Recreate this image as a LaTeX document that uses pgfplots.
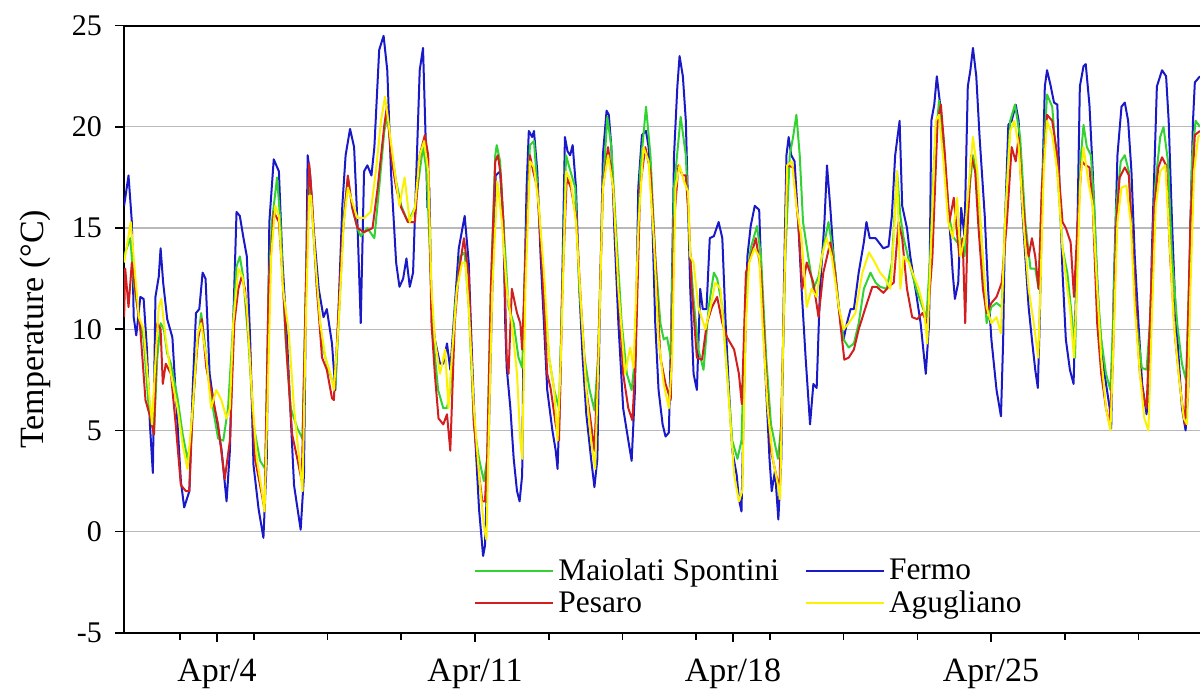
\documentclass[border=0pt]{standalone}
\usepackage{fontspec}
\setmainfont{Liberation Serif}
\usepackage{pgfplots}
\pgfplotsset{compat=1.18}
\definecolor{cgreen}{RGB}{50,210,50}
\definecolor{cred}{RGB}{210,30,30}
\definecolor{cblue}{RGB}{25,25,200}
\definecolor{cyellow}{RGB}{250,242,0}
\begin{document}
\begin{tikzpicture}
\begin{axis}[
  name=ax, at={(0,0)}, anchor=south west,
  width=538pt, height=303.6pt, scale only axis,
  xmin=1.477, xmax=30.67, ymin=-5, ymax=25,
  axis x line*=box, axis y line*=left,
  axis line style={line width=1pt, black},
  xtick={4,11,18,25}, xticklabels={Apr/4,Apr/11,Apr/18,Apr/25},
  minor xtick={3,5,7,9,13,15,17,19,21,23,27,29},
  ytick={-5,0,5,10,15,20,25}, yticklabels={-5,0,5,10,15,20,25},
  tick align=outside, xtick pos=left, ytick pos=left,
  major tick length=4.5pt, minor tick length=3.5pt,
  every tick/.style={black, line width=0.8pt},
  ymajorgrids, grid style={gray!55, line width=0.6pt},
  xticklabel style={font=\fontsize{17}{20}\selectfont, yshift=-5pt},
  yticklabel style={font=\fontsize{15}{18}\selectfont, xshift=-3pt},
  ylabel={Temperature (°C)},
  ylabel style={font=\fontsize{17}{20}\selectfont, at={(axis description cs:-0.0827,0.5)}, anchor=center},
  legend columns=2,
  legend cell align=left,
  legend style={draw=none, fill=none, at={(rel axis cs:0.3197,0.1367)}, anchor=north west,
    font=\fontsize{15.7}{18}\selectfont, /tikz/every even column/.append style={column sep=11pt}},
  legend image code/.code={\draw[#1, line width=1pt] (0pt,0pt) -- (35pt,0pt); \path (0pt,0pt) -- (39pt,0pt);},
  every axis plot/.append style={line width=1pt, line join=round, mark=none},
]
% Fermo
\addplot[cblue, forget plot] coordinates {(1.48,16.1)(1.6,17.6)(1.69,15.3)(1.74,10.6)(1.81,9.7)(1.92,11.6)(2.01,11.5)(2.1,9.0)(2.18,5.3)(2.26,2.9)(2.33,11.6)(2.42,12.6)(2.47,14.0)(2.54,12.3)(2.65,10.5)(2.79,9.6)(2.93,5.3)(3.02,2.5)(3.11,1.2)(3.25,2.0)(3.34,7.0)(3.43,10.8)(3.52,11.0)(3.61,12.8)(3.69,12.5)(3.8,7.8)(3.94,6.0)(4.12,4.1)(4.26,1.5)(4.35,4.0)(4.44,10.3)(4.53,15.8)(4.62,15.6)(4.71,14.6)(4.81,13.6)(4.9,9.5)(4.99,3.3)(5.13,1.1)(5.26,-0.3)(5.35,3.6)(5.42,15.3)(5.54,18.4)(5.68,17.8)(5.77,13.6)(5.9,9.5)(6.09,2.3)(6.27,0.1)(6.36,2.8)(6.41,11.1)(6.46,18.6)(6.53,17.6)(6.62,15.0)(6.76,12.0)(6.89,10.6)(6.98,11.0)(7.12,9.3)(7.21,7.0)(7.3,11.1)(7.4,16.1)(7.49,18.6)(7.61,19.9)(7.72,19.0)(7.81,15.3)(7.9,10.3)(7.99,17.8)(8.08,18.1)(8.19,17.6)(8.27,19.0)(8.4,23.8)(8.52,24.5)(8.62,22.8)(8.72,17.8)(8.86,13.3)(8.95,12.1)(9.05,12.5)(9.14,13.5)(9.23,12.1)(9.32,12.8)(9.41,17.8)(9.5,22.8)(9.59,23.9)(9.66,19.5)(9.71,16.0)(9.76,17.0)(9.82,11.1)(9.91,9.5)(10.05,8.3)(10.14,8.3)(10.24,9.3)(10.33,8.0)(10.42,10.3)(10.56,14.0)(10.72,15.6)(10.83,13.3)(10.92,8.6)(11.01,4.5)(11.11,1.1)(11.22,-1.2)(11.27,-0.7)(11.38,5.3)(11.47,12.0)(11.56,17.6)(11.68,17.8)(11.77,15.3)(11.82,10.3)(11.86,8.1)(11.96,6.1)(12.05,3.6)(12.14,2.0)(12.21,1.5)(12.28,2.8)(12.32,10.3)(12.4,17.0)(12.46,19.8)(12.55,19.5)(12.6,19.8)(12.69,17.8)(12.78,13.6)(12.87,10.3)(12.96,7.0)(13.1,5.0)(13.19,4.0)(13.24,3.1)(13.31,7.0)(13.38,13.6)(13.44,19.5)(13.51,18.8)(13.58,18.6)(13.65,19.1)(13.74,17.0)(13.83,12.0)(13.92,8.6)(14.02,5.8)(14.15,3.6)(14.24,2.2)(14.32,3.6)(14.38,10.3)(14.47,18.6)(14.57,20.8)(14.63,20.6)(14.7,19.0)(14.79,14.5)(14.89,10.3)(15.02,6.1)(15.16,4.5)(15.25,3.5)(15.34,7.0)(15.43,17.0)(15.53,19.6)(15.64,19.8)(15.71,19.0)(15.8,16.1)(15.89,10.3)(15.98,7.0)(16.09,5.3)(16.17,4.7)(16.26,4.9)(16.32,9.8)(16.4,18.6)(16.49,22.0)(16.55,23.5)(16.64,22.5)(16.72,20.3)(16.76,17.5)(16.84,12.0)(16.93,7.8)(17.02,7.0)(17.11,12.0)(17.18,11.0)(17.28,11.0)(17.37,14.5)(17.48,14.6)(17.61,15.3)(17.71,14.5)(17.8,10.3)(17.89,7.0)(17.98,4.0)(18.1,2.8)(18.16,1.6)(18.23,1.0)(18.3,7.0)(18.39,13.6)(18.48,15.1)(18.59,16.1)(18.71,15.9)(18.8,11.1)(18.9,7.0)(18.99,3.6)(19.05,2.0)(19.14,3.0)(19.23,0.6)(19.31,3.6)(19.38,12.0)(19.45,18.6)(19.51,19.5)(19.58,18.6)(19.67,18.3)(19.77,15.3)(19.86,12.0)(19.97,8.6)(20.09,5.3)(20.18,7.3)(20.27,7.1)(20.36,12.0)(20.48,15.3)(20.55,18.1)(20.64,16.0)(20.73,13.6)(20.87,11.1)(21.0,9.5)(21.09,10.3)(21.19,11.0)(21.28,11.0)(21.41,12.8)(21.55,14.3)(21.62,15.3)(21.71,14.5)(21.87,14.5)(22.08,14.0)(22.22,14.1)(22.31,15.6)(22.4,18.6)(22.52,20.3)(22.59,16.1)(22.72,15.0)(22.81,13.6)(22.95,12.0)(23.09,10.3)(23.23,7.8)(23.32,10.3)(23.38,20.3)(23.46,21.1)(23.53,22.5)(23.62,21.1)(23.73,18.6)(23.87,15.3)(23.96,12.8)(24.02,11.5)(24.11,12.3)(24.19,16.0)(24.28,14.6)(24.37,22.0)(24.44,22.8)(24.51,23.9)(24.6,22.5)(24.69,19.5)(24.83,15.6)(24.92,12.0)(25.01,9.5)(25.15,7.0)(25.27,5.7)(25.33,9.5)(25.38,15.3)(25.47,20.1)(25.56,20.3)(25.67,21.1)(25.75,20.3)(25.84,16.1)(25.93,13.6)(26.02,11.1)(26.11,9.5)(26.2,8.0)(26.27,7.1)(26.32,10.3)(26.39,17.0)(26.46,22.0)(26.52,22.8)(26.61,22.1)(26.71,21.2)(26.8,21.1)(26.86,17.0)(26.94,12.8)(27.03,9.5)(27.14,8.0)(27.24,7.3)(27.33,13.6)(27.41,22.0)(27.51,23.0)(27.57,23.1)(27.67,21.1)(27.76,17.8)(27.85,13.6)(27.94,10.3)(28.08,7.8)(28.22,6.1)(28.26,5.1)(28.33,12.0)(28.43,18.6)(28.54,21.0)(28.63,21.2)(28.72,20.3)(28.81,17.8)(28.9,13.6)(29.0,10.3)(29.1,7.3)(29.22,5.8)(29.29,7.0)(29.36,13.6)(29.5,22.0)(29.64,22.8)(29.75,22.5)(29.82,20.3)(29.91,15.3)(30.0,11.1)(30.09,8.6)(30.18,6.1)(30.28,5.0)(30.35,7.0)(30.41,15.3)(30.48,20.3)(30.53,22.2)(30.67,22.5)};
% Maiolati Spontini
\addplot[cgreen, forget plot] coordinates {(1.48,13.6)(1.55,14.0)(1.65,14.5)(1.74,12.3)(1.88,10.6)(2.01,9.5)(2.15,6.1)(2.29,4.8)(2.38,8.6)(2.47,10.3)(2.56,10.0)(2.65,8.8)(2.75,8.3)(2.93,6.6)(3.07,4.8)(3.2,3.6)(3.3,4.5)(3.43,8.6)(3.57,10.8)(3.66,9.5)(3.75,7.8)(3.89,6.1)(4.03,4.6)(4.17,4.5)(4.3,6.1)(4.44,10.3)(4.53,13.1)(4.62,13.6)(4.71,12.6)(4.85,9.5)(4.99,5.3)(5.17,3.5)(5.31,3.1)(5.4,12.0)(5.49,15.3)(5.63,17.5)(5.72,15.3)(5.86,9.5)(6.0,6.1)(6.18,5.1)(6.32,4.6)(6.41,12.0)(6.5,17.8)(6.57,16.1)(6.71,12.0)(6.85,9.3)(6.98,8.3)(7.12,7.5)(7.21,7.1)(7.3,10.3)(7.44,15.6)(7.55,17.5)(7.67,16.0)(7.81,15.0)(7.9,14.6)(8.08,15.0)(8.27,14.5)(8.4,17.0)(8.54,19.8)(8.63,20.6)(8.72,19.0)(8.86,17.3)(9.0,16.1)(9.18,15.3)(9.37,16.0)(9.5,17.8)(9.59,19.0)(9.69,17.8)(9.78,13.6)(9.87,9.5)(10.0,7.0)(10.14,6.1)(10.24,6.1)(10.33,7.0)(10.46,11.1)(10.6,13.6)(10.72,13.8)(10.83,11.1)(10.97,5.3)(11.11,3.6)(11.24,2.5)(11.33,3.6)(11.43,12.0)(11.55,18.6)(11.59,19.1)(11.68,18.3)(11.77,15.3)(11.91,11.1)(12.05,10.3)(12.18,8.6)(12.28,8.1)(12.37,13.6)(12.49,19.1)(12.6,19.3)(12.73,16.1)(12.87,12.0)(13.01,8.6)(13.15,7.0)(13.28,6.1)(13.37,12.0)(13.47,18.6)(13.56,18.0)(13.72,17.0)(13.83,12.0)(13.97,8.6)(14.11,7.0)(14.24,6.0)(14.34,8.6)(14.47,17.0)(14.59,20.5)(14.7,19.0)(14.84,14.5)(14.98,10.3)(15.12,7.8)(15.25,7.0)(15.34,8.6)(15.48,17.8)(15.64,21.0)(15.76,18.6)(15.89,13.6)(16.03,10.3)(16.12,9.5)(16.21,9.6)(16.31,8.6)(16.4,17.0)(16.58,20.5)(16.72,18.6)(16.84,13.6)(16.93,11.5)(17.06,9.0)(17.2,8.0)(17.34,11.1)(17.48,12.8)(17.57,12.5)(17.71,11.1)(17.84,7.8)(17.98,4.5)(18.12,3.6)(18.23,4.5)(18.35,12.0)(18.48,14.0)(18.65,15.1)(18.76,13.6)(18.9,8.6)(19.03,5.3)(19.22,3.6)(19.31,5.3)(19.42,13.6)(19.54,18.6)(19.63,19.5)(19.72,20.6)(19.81,18.6)(19.9,15.3)(20.04,13.6)(20.18,12.0)(20.32,12.6)(20.45,14.0)(20.59,15.3)(20.73,13.6)(20.87,11.1)(21.0,9.5)(21.14,9.1)(21.28,9.3)(21.41,10.3)(21.55,12.0)(21.73,12.8)(21.87,12.3)(21.99,12.1)(22.17,12.0)(22.31,13.3)(22.45,17.8)(22.54,15.6)(22.63,14.5)(22.81,13.1)(22.97,12.0)(23.14,11.1)(23.25,10.6)(23.35,13.6)(23.46,18.6)(23.59,21.3)(23.71,19.5)(23.82,16.1)(23.96,14.6)(24.08,14.3)(24.17,14.5)(24.28,13.6)(24.42,17.0)(24.51,18.6)(24.6,17.8)(24.74,14.5)(24.88,10.3)(25.01,11.1)(25.15,11.3)(25.29,11.1)(25.38,15.3)(25.52,20.3)(25.65,21.1)(25.79,19.5)(25.93,15.3)(26.07,13.0)(26.2,13.0)(26.29,12.0)(26.38,17.0)(26.52,21.6)(26.66,21.0)(26.8,17.8)(26.94,14.0)(27.07,12.8)(27.21,10.3)(27.28,8.6)(27.35,14.5)(27.44,18.6)(27.51,20.1)(27.6,19.0)(27.71,18.6)(27.8,16.1)(27.89,12.0)(27.99,9.5)(28.12,7.8)(28.24,7.0)(28.31,10.3)(28.4,16.1)(28.52,18.3)(28.63,18.6)(28.74,17.8)(28.83,14.5)(28.95,10.3)(29.09,8.1)(29.22,8.0)(29.31,10.3)(29.45,17.0)(29.59,19.5)(29.68,20.0)(29.8,18.3)(29.91,13.6)(30.05,10.3)(30.18,8.3)(30.29,7.5)(30.37,12.0)(30.46,18.6)(30.55,20.3)(30.67,20.0)};
% Pesaro
\addplot[cred, forget plot] coordinates {(1.48,10.6)(1.51,13.0)(1.6,11.1)(1.69,13.3)(1.78,12.0)(1.92,10.0)(2.06,6.5)(2.2,5.6)(2.29,4.8)(2.38,10.3)(2.47,10.0)(2.53,7.3)(2.61,8.3)(2.75,7.8)(2.88,5.3)(3.02,2.3)(3.16,2.0)(3.25,2.0)(3.34,6.1)(3.48,9.5)(3.59,10.5)(3.71,8.1)(3.84,7.0)(4.03,5.3)(4.21,2.6)(4.35,4.5)(4.47,10.3)(4.58,12.0)(4.67,12.6)(4.76,12.0)(4.9,8.6)(5.03,3.6)(5.2,2.0)(5.29,1.1)(5.4,12.0)(5.54,15.8)(5.68,15.3)(5.77,12.8)(5.9,8.6)(6.04,4.8)(6.18,3.6)(6.3,2.5)(6.41,12.0)(6.5,18.2)(6.57,16.6)(6.71,12.0)(6.85,8.6)(6.98,8.0)(7.12,6.6)(7.17,6.5)(7.26,9.5)(7.4,14.5)(7.55,17.6)(7.67,16.0)(7.81,15.0)(7.99,14.8)(8.22,15.0)(8.36,17.0)(8.54,20.1)(8.61,21.0)(8.72,18.6)(8.86,17.0)(9.0,16.0)(9.18,15.3)(9.37,15.3)(9.5,18.6)(9.64,19.6)(9.73,18.6)(9.82,10.3)(9.91,7.8)(10.01,5.6)(10.14,5.3)(10.24,5.8)(10.33,4.0)(10.45,10.3)(10.56,12.8)(10.7,14.5)(10.83,12.6)(10.97,5.3)(11.11,2.8)(11.2,1.5)(11.27,1.5)(11.33,3.6)(11.43,12.0)(11.55,18.3)(11.62,18.6)(11.7,17.6)(11.77,15.3)(11.86,8.6)(11.91,7.8)(12.0,12.0)(12.14,10.8)(12.23,10.3)(12.28,9.0)(12.37,13.6)(12.49,18.6)(12.58,17.8)(12.69,17.0)(12.83,12.8)(12.96,7.8)(13.05,7.1)(13.19,5.3)(13.28,4.5)(13.37,12.0)(13.49,17.5)(13.6,17.0)(13.74,15.6)(13.88,11.1)(14.02,7.0)(14.15,5.3)(14.24,4.0)(14.34,8.6)(14.47,17.0)(14.61,19.0)(14.75,17.0)(14.89,12.0)(15.02,7.8)(15.16,6.1)(15.27,5.5)(15.36,8.6)(15.48,17.0)(15.62,19.0)(15.76,17.8)(15.89,13.6)(16.03,8.6)(16.17,7.3)(16.31,6.5)(16.4,15.3)(16.52,18.1)(16.63,17.6)(16.72,17.6)(16.8,15.5)(16.88,12.0)(17.02,8.6)(17.16,8.5)(17.29,10.3)(17.43,11.1)(17.57,11.6)(17.71,10.3)(17.84,9.6)(18.03,9.0)(18.16,7.8)(18.24,6.3)(18.35,12.8)(18.48,13.6)(18.62,14.5)(18.76,12.8)(18.9,7.8)(19.03,4.0)(19.17,2.8)(19.26,2.1)(19.35,8.6)(19.47,18.1)(19.63,18.0)(19.77,15.3)(19.88,12.0)(20.0,13.3)(20.18,12.3)(20.32,10.6)(20.45,12.8)(20.64,14.3)(20.77,12.8)(20.91,10.3)(21.02,8.5)(21.14,8.6)(21.28,9.0)(21.41,10.0)(21.6,11.1)(21.78,12.1)(21.9,12.1)(22.08,11.8)(22.22,12.1)(22.36,12.3)(22.49,15.3)(22.59,14.5)(22.72,12.0)(22.86,10.6)(23.0,10.5)(23.14,10.8)(23.27,10.3)(23.41,13.6)(23.55,20.3)(23.64,21.1)(23.75,18.6)(23.87,15.3)(23.99,16.5)(24.05,15.3)(24.14,13.6)(24.23,14.5)(24.3,10.3)(24.37,15.3)(24.46,18.6)(24.57,17.8)(24.65,15.3)(24.78,12.0)(24.88,10.8)(25.01,11.3)(25.15,11.6)(25.29,12.3)(25.43,15.3)(25.56,19.0)(25.67,18.3)(25.75,19.5)(25.84,17.0)(25.95,14.5)(26.02,13.6)(26.11,14.5)(26.2,13.6)(26.29,12.0)(26.38,17.0)(26.52,20.6)(26.66,20.3)(26.8,18.6)(26.94,15.3)(27.03,15.0)(27.16,14.3)(27.25,11.6)(27.35,15.3)(27.46,18.3)(27.57,18.1)(27.67,18.0)(27.76,16.1)(27.88,10.3)(27.99,7.8)(28.12,6.1)(28.22,5.3)(28.31,8.6)(28.4,15.3)(28.49,17.5)(28.63,18.0)(28.74,17.6)(28.83,14.5)(28.95,10.3)(29.04,7.8)(29.16,6.5)(29.22,6.1)(29.31,10.3)(29.43,16.1)(29.54,18.0)(29.64,18.5)(29.75,18.1)(29.86,13.6)(30.0,9.5)(30.14,7.0)(30.26,5.3)(30.32,8.6)(30.41,15.3)(30.53,19.6)(30.67,19.8)};
% Agugliano
\addplot[cyellow, forget plot] coordinates {(1.48,13.3)(1.6,14.6)(1.66,15.3)(1.76,13.1)(1.88,10.6)(2.01,10.0)(2.15,7.0)(2.24,5.3)(2.31,7.8)(2.42,11.1)(2.49,11.5)(2.61,9.5)(2.75,7.8)(2.93,6.1)(3.07,4.3)(3.2,3.1)(3.34,6.1)(3.48,9.8)(3.57,10.3)(3.71,8.6)(3.84,6.1)(3.98,7.0)(4.12,6.5)(4.26,5.6)(4.35,6.1)(4.44,10.3)(4.58,13.0)(4.69,12.6)(4.81,11.1)(4.94,7.0)(5.08,3.6)(5.22,2.0)(5.29,1.0)(5.38,7.0)(5.47,13.6)(5.58,16.1)(5.68,15.6)(5.79,12.0)(5.95,9.8)(6.09,6.1)(6.23,3.6)(6.32,2.0)(6.41,10.3)(6.5,16.6)(6.55,16.6)(6.66,13.6)(6.8,10.3)(6.94,8.6)(7.08,7.8)(7.17,7.0)(7.3,10.3)(7.44,15.3)(7.55,17.0)(7.67,16.3)(7.81,15.5)(7.99,15.5)(8.17,15.8)(8.31,17.8)(8.45,20.3)(8.56,21.5)(8.68,19.8)(8.82,17.8)(8.95,16.1)(9.09,17.5)(9.23,15.3)(9.37,16.0)(9.5,18.6)(9.62,19.3)(9.73,17.8)(9.82,12.0)(9.91,9.5)(10.05,7.8)(10.19,9.0)(10.28,6.1)(10.37,8.6)(10.51,12.0)(10.65,13.3)(10.74,13.3)(10.83,11.1)(10.97,6.1)(11.11,2.8)(11.24,0.3)(11.31,-0.4)(11.38,5.3)(11.47,12.0)(11.61,17.3)(11.73,15.3)(11.86,12.0)(12.0,10.3)(12.14,7.8)(12.23,4.5)(12.28,3.6)(12.37,12.0)(12.49,18.3)(12.6,18.0)(12.73,16.1)(12.87,12.8)(13.01,8.6)(13.15,7.0)(13.24,4.5)(13.33,8.6)(13.47,17.8)(13.6,17.3)(13.74,15.3)(13.88,11.1)(14.02,7.0)(14.15,4.5)(14.26,3.1)(14.35,8.6)(14.47,17.0)(14.61,18.6)(14.75,17.0)(14.89,12.0)(15.07,7.8)(15.21,9.1)(15.3,8.1)(15.44,15.3)(15.57,19.0)(15.71,18.3)(15.85,14.5)(15.98,9.5)(16.12,7.3)(16.26,6.1)(16.35,8.6)(16.44,17.0)(16.55,18.1)(16.67,17.3)(16.78,16.8)(16.84,13.6)(16.93,13.3)(17.06,11.1)(17.25,10.0)(17.39,11.1)(17.52,12.3)(17.66,12.0)(17.84,7.8)(18.03,2.8)(18.16,1.5)(18.25,2.0)(18.35,10.3)(18.44,13.3)(18.58,14.0)(18.71,13.6)(18.8,10.3)(18.94,6.1)(19.08,3.6)(19.22,2.3)(19.28,1.6)(19.35,8.6)(19.47,18.1)(19.6,18.3)(19.72,16.1)(19.86,14.5)(20.0,11.1)(20.13,12.0)(20.27,11.6)(20.41,13.6)(20.54,14.5)(20.68,13.6)(20.87,11.1)(21.0,10.0)(21.14,10.3)(21.32,10.8)(21.51,12.8)(21.69,13.8)(21.85,13.3)(21.99,12.8)(22.13,12.5)(22.27,12.0)(22.36,14.5)(22.45,17.8)(22.54,12.0)(22.63,13.6)(22.77,13.3)(22.91,12.6)(23.04,12.0)(23.18,11.0)(23.27,9.3)(23.36,13.6)(23.5,20.3)(23.59,20.6)(23.71,18.3)(23.84,15.3)(23.96,14.5)(24.08,16.5)(24.17,13.6)(24.28,14.5)(24.39,17.0)(24.51,19.5)(24.63,17.8)(24.74,14.5)(24.88,11.1)(25.01,10.3)(25.15,10.6)(25.27,9.8)(25.38,15.3)(25.52,19.8)(25.63,20.3)(25.75,19.1)(25.88,15.3)(26.02,12.0)(26.16,10.3)(26.28,8.6)(26.34,12.0)(26.43,17.8)(26.52,20.3)(26.66,19.6)(26.8,17.8)(26.94,14.0)(27.07,12.0)(27.14,11.1)(27.25,8.6)(27.33,12.0)(27.42,17.3)(27.51,19.0)(27.64,17.3)(27.76,16.1)(27.88,12.0)(27.99,8.6)(28.12,6.1)(28.24,5.0)(28.31,8.6)(28.43,15.3)(28.54,17.0)(28.67,17.1)(28.79,15.3)(28.9,11.1)(29.04,7.8)(29.16,5.6)(29.27,5.0)(29.36,10.3)(29.47,16.1)(29.59,17.8)(29.73,18.1)(29.84,14.5)(29.96,10.3)(30.09,7.8)(30.23,5.6)(30.32,5.3)(30.41,12.0)(30.51,17.8)(30.62,19.5)(30.67,19.6)};
\addlegendimage{cgreen}\addlegendentry{Maiolati Spontini}
\addlegendimage{cblue}\addlegendentry{Fermo}
\addlegendimage{cred}\addlegendentry{Pesaro}
\addlegendimage{cyellow}\addlegendentry{Agugliano}
\end{axis}
\pgfresetboundingbox
\path[use as bounding box] (-62pt,-31.5pt) rectangle (538pt,316.45pt);
\end{tikzpicture}
\end{document}
